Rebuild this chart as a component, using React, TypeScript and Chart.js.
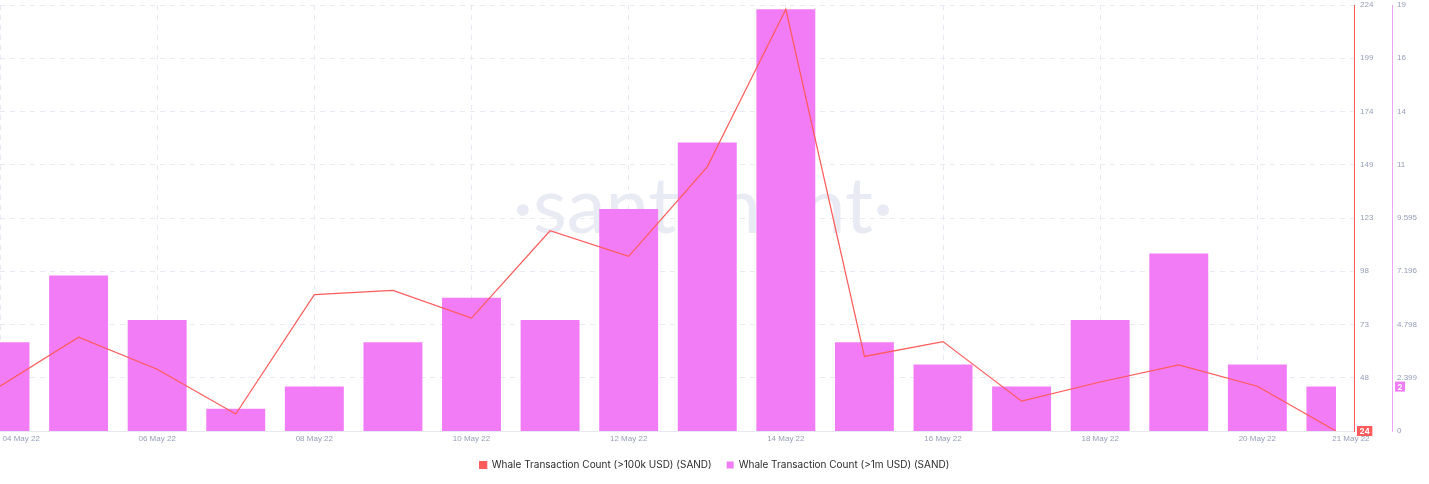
import React, { useEffect, useRef } from "react";
import { Chart, registerables } from "chart.js";

Chart.register(...registerables);

// ---- data ----
const dates = [
  "04 May 22", "05 May 22", "06 May 22", "07 May 22", "08 May 22", "09 May 22",
  "10 May 22", "11 May 22", "12 May 22", "13 May 22", "14 May 22", "15 May 22",
  "16 May 22", "17 May 22", "18 May 22", "19 May 22", "20 May 22", "21 May 22",
];
const whale100k = [45, 68, 53, 32, 88, 90, 77, 118, 106, 148, 222, 59, 66, 38, 47, 55, 45, 24];
const whale1m = [4, 7, 5, 1, 2, 4, 6, 5, 10, 13, 19, 4, 3, 2, 5, 8, 3, 2];

const redAxisLabels = ["", "48", "73", "98", "123", "149", "174", "199", "224"];
const magentaAxisLabels = ["0", "2.399", "4.798", "7.196", "9.595", "11", "14", "16", "19"];

const RED_MIN = 24;
const RED_MAX = 224;
const MAG_MIN = 0;
const MAG_MAX = 19.19;

const RED = "#ff5b5b";
const MAGENTA = "#f27cf5";
const MAG_AXIS = "#eaa6f3";
const TICK_COLOR = "#959db8";
const GRID_COLOR = "#e9e9f3";
const FONT = "Inter, 'Open Sans', sans-serif";
const TICK_FONT = "'Liberation Sans', Arial, sans-serif";

const X_MAX = dates.length - 1 + 0.23;

const watermarkPlugin = {
  id: "watermark",
  beforeDatasetsDraw(chart: any) {
    const { ctx, chartArea } = chart;
    ctx.save();
    ctx.fillStyle = "#e8ebf3";
    ctx.font = `400 78px Lato, ${FONT}`;
    ctx.textAlign = "center";
    ctx.textBaseline = "alphabetic";
    const cx = (chartArea.left + chartArea.right) / 2 + 26;
    const cy = (chartArea.top + chartArea.bottom) / 2 + 15;
    ctx.fillText("·santiment·", cx, cy);
    ctx.restore();
  },
};

const lastValuePlugin = {
  id: "lastValue",
  afterDraw(chart: any) {
    const { ctx } = chart;
    const draw = (scaleId: string, value: number, color: string) => {
      const s = chart.scales[scaleId];
      const py = s.getPixelForValue(value);
      const text = String(value);
      ctx.save();
      ctx.font = `bold 8px ${FONT}`;
      const w = ctx.measureText(text).width + 5;
      const h = 10;
      const x = s.left + 3;
      ctx.fillStyle = color;
      ctx.fillRect(x, py - h / 2, w, h);
      ctx.fillStyle = "#ffffff";
      ctx.textAlign = "center";
      ctx.textBaseline = "middle";
      ctx.fillText(text, x + w / 2, py + 0.5);
      ctx.restore();
    };
    draw("y", whale100k[whale100k.length - 1], RED);
    draw("y1", whale1m[whale1m.length - 1], MAGENTA);
  },
};

const zeroPad = (scale: any) => {
  scale.paddingTop = 0;
  scale.paddingBottom = 0;
  scale.paddingLeft = 0;
  scale.paddingRight = 0;
};

export default function App() {
  const ref = useRef<HTMLCanvasElement>(null);

  useEffect(() => {
    if (!ref.current) return;
    const chart = new Chart(ref.current, {
      type: "bar",
      data: {
        datasets: [
          {
            type: "line",
            label: "Whale Transaction Count (>100k USD) (SAND)",
            data: whale100k.map((v, i) => ({ x: i, y: v })),
            xAxisID: "x",
            yAxisID: "y",
            borderColor: RED,
            backgroundColor: RED,
            borderWidth: 1.2,
            pointRadius: 0,
            tension: 0,
            order: 0,
          } as any,
          {
            type: "bar",
            label: "Whale Transaction Count (>1m USD) (SAND)",
            data: whale1m.map((v, i) => ({ x: i, y: v })),
            xAxisID: "x",
            yAxisID: "y1",
            backgroundColor: MAGENTA,
            borderWidth: 0,
            barPercentage: 0.75,
            categoryPercentage: 1,
            clip: { left: 0, top: 0, right: -18, bottom: 0 },
            order: 1,
          } as any,
        ],
      },
      options: {
        animation: false,
        responsive: true,
        maintainAspectRatio: false,
        layout: { padding: { top: 5, left: 0, right: 0, bottom: 4 } },
        plugins: {
          tooltip: { enabled: false },
          legend: {
            position: "bottom",
            labels: {
              boxWidth: 7,
              boxHeight: 7,
              padding: 15,
              color: "#2c2c2c",
              font: { size: 10, family: FONT },
            },
          },
        },
        scales: {
          x: {
            type: "linear",
            min: 0,
            max: X_MAX,
            offset: false,
            weight: 0,
            ticks: { display: false },
            grid: {
              color: GRID_COLOR,
              drawTicks: false,
              offset: false,
            },
            border: { display: true, color: "#e8e8f0", dash: [5, 5] },
            afterBuildTicks: (scale: any) => {
              scale.ticks = dates
                .map((_, i) => i)
                .filter((i) => i % 2 === 0)
                .map((i) => ({ value: i }));
            },
            afterFit: (scale: any) => {
              scale.height = 0;
              zeroPad(scale);
            },
          } as any,
          xl: {
            type: "linear",
            position: "bottom",
            min: 0,
            max: X_MAX,
            offset: false,
            weight: 1,
            grid: { display: false, drawTicks: false, offset: false },
            border: { display: false },
            ticks: {
              color: TICK_COLOR,
              font: { size: 8, family: TICK_FONT },
              padding: 3,
              autoSkip: false,
              maxRotation: 0,
              callback: (v: any) => dates[Math.round(Number(v))],
            },
            afterBuildTicks: (scale: any) => {
              const last = dates.length - 1;
              scale.ticks = dates
                .map((_, i) => i)
                .filter((i) => i % 2 === 0 || i === last)
                .map((i) => ({ value: i === 0 ? i + 0.27 : i === last ? i + 0.19 : i }));
            },
            afterFit: (scale: any) => {
              scale.height = 14;
              zeroPad(scale);
            },
          } as any,
          y: {
            type: "linear",
            position: "right",
            min: RED_MIN,
            max: RED_MAX,
            weight: 0,
            grid: {
              color: GRID_COLOR,
              drawTicks: false,
            },
            border: { display: true, color: RED, width: 1, dash: [5, 5] } as any,
            ticks: {
              color: TICK_COLOR,
              font: { size: 8, family: TICK_FONT },
              padding: 6,
              callback: (_v: any, i: number) => redAxisLabels[i],
            },
            afterBuildTicks: (scale: any) => {
              scale.ticks = redAxisLabels.map((_, i) => ({
                value: RED_MIN + (i * (RED_MAX - RED_MIN)) / (redAxisLabels.length - 1),
              }));
            },
            afterFit: (scale: any) => {
              scale.width = 38;
              zeroPad(scale);
            },
          } as any,
          y1: {
            type: "linear",
            position: "right",
            min: MAG_MIN,
            max: MAG_MAX,
            weight: 1,
            grid: { display: false, drawTicks: false },
            border: { display: true, color: MAG_AXIS, width: 1 },
            ticks: {
              color: TICK_COLOR,
              font: { size: 8, family: TICK_FONT },
              padding: 5,
              callback: (_v: any, i: number) => magentaAxisLabels[i],
            },
            afterBuildTicks: (scale: any) => {
              scale.ticks = magentaAxisLabels.map((_, i) => ({
                value: MAG_MIN + (i * (MAG_MAX - MAG_MIN)) / (magentaAxisLabels.length - 1),
              }));
            },
            afterFit: (scale: any) => {
              scale.width = 37;
              zeroPad(scale);
            },
          } as any,
        },
      },
      plugins: [watermarkPlugin, lastValuePlugin],
    });
    return () => chart.destroy();
  }, []);

  return (
    <div style={{ position: "fixed", left: 0, top: 0, width: 1429, height: 484, background: "#fff" }}>
      <canvas ref={ref} />
    </div>
  );
}
